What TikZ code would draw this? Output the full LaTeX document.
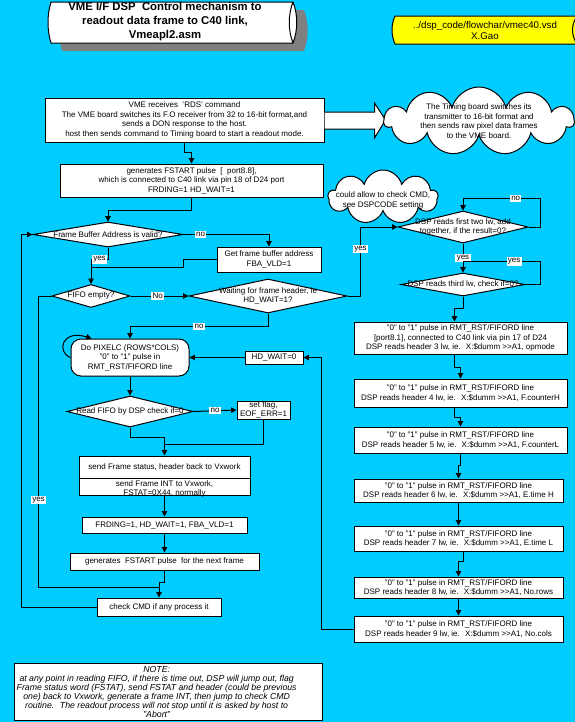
\documentclass[tikz,border=0pt]{standalone}
\usepackage{fontspec}
\setmainfont{Liberation Sans}
\usetikzlibrary{arrows.meta,shapes.geometric,shapes.symbols,calc}
\definecolor{bgc}{HTML}{00CCFF}
\definecolor{shd}{HTML}{808080}
\definecolor{yel}{HTML}{FFFF00}
\tikzset{
  every node/.style={font=\fontsize{6.0}{7.1}\selectfont},
  sz/.style 2 args={minimum width=#1*0.75pt, minimum height=#2*0.75pt},
  box/.style={draw, fill=white, line width=0.75pt, inner sep=0pt, align=center},
  dia/.style={diamond, draw, fill=white, line width=0.75pt, inner sep=0pt, shape aspect=1},
  cld/.style={cloud, draw, fill=white, line width=0.75pt, inner sep=0pt, cloud ignores aspect},
  lbl/.style={fill=white, inner sep=1pt},
  ln/.style={line width=0.75pt},
  arr/.style={line width=0.75pt, -{Triangle[length=4pt,width=4pt]}},
}
\newcommand{\gtgt}{>{}>}
\begin{document}
\begin{tikzpicture}[x=0.75pt,y=-0.75pt]
\path[use as bounding box, fill=bgc] (0,0) rectangle (575,722);
\begin{scope}
\clip (0,0) rectangle (575,722);
% title banner
\fill[shd] (62,10) -- (304,10) .. controls (309,23) and (309,38) .. (304,51) -- (62,51) .. controls (58,38) and (58,23) .. (62,10) -- cycle;
\draw[fill=white, line width=0.75pt] (51,2) -- (293,2) .. controls (298,15) and (298,30) .. (293,43) -- (51,43) .. controls (47,30) and (47,15) .. (51,2) -- cycle;
\draw[line width=0.75pt] (293,2) .. controls (288,15) and (288,30) .. (293,43);
\node[align=center, font=\bfseries\fontsize{8.5}{10.5}\selectfont] (title) at (165,22) {VME I/F DSP \ Control mechanism to\\readout data frame to C40 link,\\Vmeapl2.asm};
% yellow file tag
\draw[fill=yel, line width=0.75pt] (395,16) -- (578,16) .. controls (583,25) and (583,35) .. (578,44) -- (395,44) .. controls (391,35) and (391,25) .. (395,16) -- cycle;
\draw[line width=0.75pt] (577,16) .. controls (571,25) and (571,35) .. (577,44);
\node[align=center, font=\fontsize{7.3}{8.3}\selectfont] (tag) at (485,30.5) {../dsp\_code/flowchar/vmec40.vsd\\X.Gao};

% top boxes
\node[box, sz={279}{44}] (box1) at (184.5,120) {VME receives \ 'RDS' command\\The VME board switches its F.O receiver from 32 to 16-bit format,and\\sends a DON response to the host.\\host then sends command to Timing board to start a readout mode.};
\draw[fill=white, line width=0.75pt] ($(box1.east)+(0,-8)$) -- ++(50,0) -- ++(0,-9) -- ($(box1.east)+(61,0)$) -- ($(box1.east)+(50,18)$) -- ++(0,-9) -- ($(box1.east)+(0,9)$);
\node[cld, cloud puffs=11, sz={190}{68}, label={[align=center]center:The Timing board switches its\\transmitter to 16-bit format and\\then sends raw pixel data frames\\to the VME board.}] (cl1) at (479,121) {};
\node[box, sz={263}{33}] (box2) at (191.5,180.5) {generates FSTART pulse \ [ \ port8.8],\\which is connected to C40 link via pin 18 of D24 port\\FRDING=1 HD\_WAIT=1};

% left decisions
\node[dia, sz={150}{25}, label={center:Frame Buffer Address is valid?}] (dFB) at (108,234.5) {};
\node[box, sz={104}{25}] (bGet) at (269,259.5) {Get frame buffer address\\FBA\_VLD=1};
\node[dia, sz={78}{23}, label={center:FIFO empty?}] (dFIFO) at (91,296) {};
\node[dia, sz={158}{34}, label={[align=center]center:Waiting for frame header, ie\\HD\_WAIT=1?}] (dWait) at (268,296) {};
\node[cld, cloud puffs=9, sz={110}{54}, label={[align=center,yshift=-2.5pt]center:could allow to check CMD,\\see DSPCODE setting}] (cl2) at (383,197) {};

% right column
\node[dia, sz={130}{32}, label={[align=center]center:DSP reads first two lw, add\\together, if the result=0?}] (dFirst) at (463,227) {};
\node[dia, sz={124}{23}, label={center:DSP reads third lw, check if=0?}] (dThird) at (463,284.5) {};
\node[box, sz={213}{32}] (R1) at (460.5,338) {"0" to "1" pulse in RMT\_RST/FIFORD line\\{}[port8.1], connected to C40 link via pin 17 of D24\\DSP reads header 3 lw, ie. \ X:\$dumm \gtgt A1, opmode};
\node[box, sz={213}{28}] (R2) at (460.5,393) {"0" to "1" pulse in RMT\_RST/FIFORD line\\DSP reads header 4 lw, ie. \ X:\$dumm \gtgt A1, F.counterH};
\node[box, sz={213}{26}] (R3) at (460.5,440) {"0" to "1" pulse in RMT\_RST/FIFORD line\\DSP reads header 5 lw, ie. \ X:\$dumm \gtgt A1, F.counterL};
\node[box, sz={209}{23}] (R4) at (458.5,490.5) {"0" to "1" pulse in RMT\_RST/FIFORD line\\DSP reads header 6 lw, ie. \ X:\$dumm \gtgt A1, E.time H};
\node[box, sz={209}{25}] (R5) at (458.5,538.5) {"0" to "1" pulse in RMT\_RST/FIFORD line\\DSP reads header 7 lw, ie. \ X:\$dumm \gtgt A1, E.time L};
\node[box, sz={209}{21}] (R6) at (458.5,587.5) {"0" to "1" pulse in RMT\_RST/FIFORD line\\DSP reads header 8 lw, ie. \ X:\$dumm \gtgt A1, No.rows};
\node[box, sz={209}{26}] (R7) at (458.5,629) {"0" to "1" pulse in RMT\_RST/FIFORD line\\DSP reads header 9 lw, ie. \ X:\$dumm \gtgt A1, No.cols};

% pixel loop
\node[box, rounded corners=7.5pt, sz={118}{37}] (pix) at (130,357.5) {Do PIXELC (ROWS*COLS)\\"0" to "1" pulse in\\RMT\_RST/FIFORD line};
\node[box, sz={58}{13}] (bHD0) at (274,357.5) {HD\_WAIT=0};
\node[dia, sz={126}{31}, label={center:Read FIFO by DSP check if=0}] (dRead) at (130,411.5) {};
\node[box, sz={53}{18}] (bFlag) at (263.5,410) {set flag,\\EOF\_ERR=1};
\node[box, sz={171}{22}] (bSend1) at (164.5,467) {send Frame status, header back to Vxwork};
\node[box, sz={171}{17}, label={[align=center,font=\fontsize{6.0}{6.6}\selectfont,yshift=-1.8pt]center:send Frame INT to Vxwork,\\FSTAT=0X44, normally}] (bSend2) at (164.5,486.5) {};
\node[box, sz={165}{16}] (bFRD) at (164.5,525) {FRDING=1, HD\_WAIT=1, FBA\_VLD=1};
\node[box, sz={189}{17}] (bGen) at (164.5,561.5) {generates \ FSTART pulse \ for the next frame};
\node[box, sz={124}{18}] (bCMD) at (159,607) {check CMD if any process it};
\node[box, sz={308}{57}, label={[align=center,xshift=-8.5pt,font=\itshape\fontsize{6.55}{6.75}\selectfont]center:NOTE:\\at any point in reading FIFO, if there is time out, DSP will jump out, flag\\Frame status word (FSTAT), send FSTAT and header (could be previous\\one) back to Vxwork, generate a frame INT, then jump to check CMD\\routine. \ The readout process will not stop until it is asked by host to\\"Abort"}] (note) at (168,691.5) {};

% connectors
\draw[arr] (box1.south) -- ++(0,10) -| (box2.north);
\draw[arr] (box2.south) -- ++(0,13) -| (dFB.north);
\draw[arr] (dFB.east) -| node[lbl,pos=0.1]{no} (bGet.north);
\draw[arr] (dFB.south) -- ++(0,12) -| node[lbl,pos=0.25]{yes} (dFIFO.north);
\coordinate (j1) at ($(dFIFO.north)+(0,-17)$);
\draw[ln] (bGet.west) -- ++(-33,0) |- (j1);
\draw[arr] (dFIFO.east) -- node[lbl,pos=0.47]{No} (dWait.west);
\draw[arr] (dWait.south) -- ++(0,13) -| node[lbl,pos=0.25]{no} (pix.north);
\draw[arr] (dWait.east) -- ++(13,0) |- node[lbl,pos=0.34]{yes} (dFirst.west);
\draw[arr] (dFirst.east) -- ++(12,0) |- node[lbl,pos=0.66]{no} ($(dFirst.north)+(0,-12)$) -- (dFirst.north);
\draw[arr] (dFirst.south) -- node[lbl]{yes} (dThird.north);
\coordinate (j2) at ($(dThird.north)+(0,-11)$);
\draw[ln] (dThird.east) -- ++(15,0) |- node[lbl,pos=0.67]{yes} (j2);
\draw[arr] (dThird.south) -- ++(0,12) -| ($(R1.north)+(-6,0)$);
\draw[arr] ($(R1.south)+(-6,0)$) -- ++(0,13) -| (R2.north);
\draw[arr] ($(R2.south)+(-6,0)$) -- ++(0,10) -| (R3.north);
\draw[arr] (R3.south) -- ++(0,12) -| (R4.north);
\draw[arr] (R4.south) -- (R5.north);
\draw[arr] ($(R5.south)+(4.5,0)$) -- ++(0,10) -| (R6.north);
\draw[arr] (R6.south) -- (R7.north);
\draw[arr] (R7.west) -- ++(-32,0) |- (bHD0.east);
\draw[arr] (bHD0.west) -- (pix.east);
\draw[arr] (pix.west) .. controls (56,352) and (62,329) .. ($(pix.north west)+(21,0)$);
\draw[arr] (pix.south) -- (dRead.north);
\draw[arr] (dRead.east) -- node[lbl]{no} (bFlag.west);
\draw[arr] (dRead.south) -- ++(0,10) -| (bSend1.north);
\coordinate (j3) at ($(bSend1.north)+(0,-11)$);
\draw[ln] (bFlag.south) |- (j3);
\draw[arr] (bSend2.south) -- (bFRD.north);
\draw[arr] (bFRD.south) -- (bGen.north);
\draw[arr] (bGen.south) -- ++(0,12) -| (bCMD.north);
\coordinate (j4) at ($(bCMD.north)+(0,-10)$);
\draw[ln] (dFIFO.west) -- ++(-13,0) |- node[lbl,pos=0.35]{yes} (j4);
\draw[arr] (bCMD.west) -- ++(-75,0) |- (dFB.west);
\end{scope}
\end{tikzpicture}
\end{document}
